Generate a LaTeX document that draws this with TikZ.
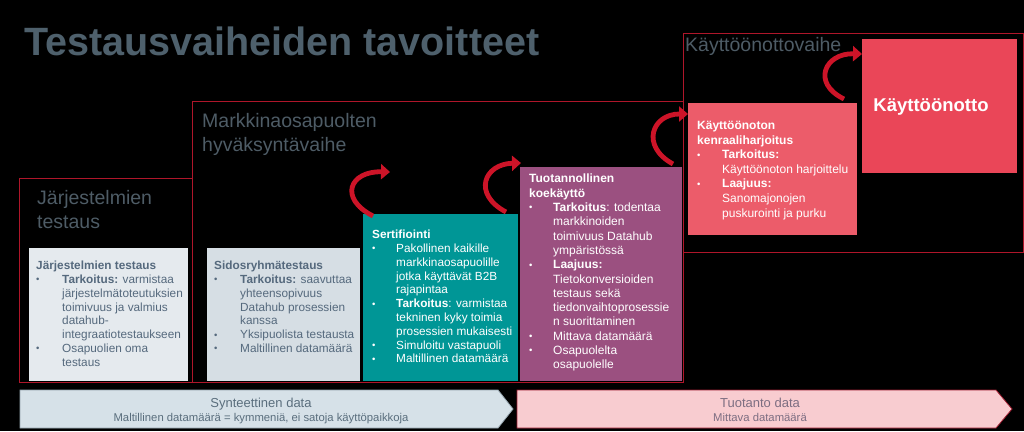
\documentclass[tikz,border=0pt]{standalone}
\usepackage{fontspec}
\setmainfont{Liberation Sans}
\usetikzlibrary{arrows.meta}
\definecolor{titlec}{RGB}{78,96,108}
\definecolor{lblc}{RGB}{78,92,102}
\definecolor{framec}{RGB}{175,22,42}
\definecolor{gfillA}{RGB}{229,234,238}
\definecolor{gfillB}{RGB}{214,222,228}
\definecolor{slate}{RGB}{85,105,125}
\definecolor{tealc}{RGB}{0,150,150}
\definecolor{purc}{RGB}{155,80,128}
\definecolor{pinkc}{RGB}{236,92,106}
\definecolor{kaytc}{RGB}{234,70,88}
\definecolor{arrowc}{RGB}{205,20,40}
\definecolor{bluechev}{RGB}{214,225,232}
\definecolor{bluechevd}{RGB}{150,165,175}
\definecolor{pinkchev}{RGB}{248,204,208}
\definecolor{pinkchevd}{RGB}{160,30,50}
\definecolor{chevtxtA}{RGB}{90,110,125}
\definecolor{chevtxtB}{RGB}{125,110,130}
\newlength\bw
\newcommand\bul{\makebox[\bw][l]{\raisebox{0.6pt}{\fontsize{9.5}{9.5}\selectfont •}}}
\newcommand\ind{\hspace*{\bw}}
\tikzset{
  frame/.style={draw=framec, line width=1.1pt, anchor=north west, inner sep=0pt},
  card/.style={anchor=north west, inner sep=0pt, draw=none},
  cardtext/.style={anchor=north west, inner sep=0pt, align=left},
  phase/.style={anchor=north west, inner sep=0pt, align=left, text=lblc,
    font=\fontsize{19.5}{24}\selectfont},
  carrow/.style={draw=arrowc, line width=4.8pt, -{Triangle[length=9pt,width=15pt]}},
  chevtext/.style={align=center, inner sep=0pt},
}
\begin{document}
\begin{tikzpicture}[x=1pt,y=-1pt]
\fill[black] (0,0) rectangle (1024,431);
\useasboundingbox (0,0) rectangle (1024,431);

% title
\node[anchor=base west, inner sep=0pt, text=titlec, font=\fontsize{39.5}{44}\selectfont\bfseries] (title) at (24,55) {Testausvaiheiden tavoitteet};

% frames
\node[frame, minimum width=173pt, minimum height=204pt] (f1) at (19,178) {};
\node[frame, minimum width=491pt, minimum height=281pt] (f2) at (192,101) {};
\node[frame, minimum width=340pt, minimum height=219pt] (f3) at (683,33) {};

\node[phase] (l1) at (37,190) {Järjestelmien\\testaus};
\node[phase] (l2) at (202,113) {Markkinaosapuolten\\hyväksyntävaihe};
\node[phase] (l3) at (685,37) {Käyttöönottovaihe};

% cards
\node[card, fill=gfillA, minimum width=159pt, minimum height=133pt] (b1) at (29,248) {};
\node[card, fill=gfillB, minimum width=153pt, minimum height=133pt] (b2) at (207,248) {};
\node[card, fill=tealc, minimum width=155pt, minimum height=167pt] (b3) at (363,214) {};
\node[card, fill=purc, minimum width=162pt, minimum height=214pt] (b4) at (520,167) {};
\node[card, fill=pinkc, minimum width=169pt, minimum height=132pt] (b5) at (688,103) {};
\node[card, fill=kaytc, minimum width=155pt, minimum height=134pt] (b6) at (862,39) {};

\node[cardtext, text=slate, font=\fontsize{11.8}{13.8}\selectfont\setlength\bw{26pt}] (t1) at (36,261) {%
\textbf{Järjestelmien testaus}\\
\bul\textbf{Tarkoitus:} varmistaa\\
\ind järjestelmätoteutuksien\\
\ind toimivuus ja valmius\\
\ind datahub-\\
\ind integraatiotestaukseen\\
\bul Osapuolien oma\\
\ind testaus};

\node[cardtext, text=slate, font=\fontsize{11.8}{13.8}\selectfont\setlength\bw{26pt}] (t2) at (214,261) {%
\textbf{Sidosryhmätestaus}\\
\bul\textbf{Tarkoitus:} saavuttaa\\
\ind yhteensopivuus\\
\ind Datahub prosessien\\
\ind kanssa\\
\bul Yksipuolista testausta\\
\bul Maltillinen datamäärä};

\node[cardtext, text=white, font=\fontsize{11.8}{13.8}\selectfont\setlength\bw{24pt}] (t3) at (372,230) {%
\textbf{Sertifiointi}\\
\bul Pakollinen kaikille\\
\ind markkinaosapuolille\\
\ind jotka käyttävät B2B\\
\ind rajapintaa\\
\bul\textbf{Tarkoitus}: varmistaa\\
\ind tekninen kyky toimia\\
\ind prosessien mukaisesti\\
\bul Simuloitu vastapuoli\\
\bul Maltillinen datamäärä};

\node[cardtext, text=white, font=\fontsize{12}{14.3}\selectfont\setlength\bw{24pt}] (t4) at (529,174) {%
\textbf{Tuotannollinen}\\
\textbf{koekäyttö}\\
\bul\textbf{Tarkoitus}: todentaa\\
\ind markkinoiden\\
\ind toimivuus Datahub\\
\ind ympäristössä\\
\bul\textbf{Laajuus:}\\
\ind Tietokonversioiden\\
\ind testaus sekä\\
\ind tiedonvaihtoprosessie\\
\ind n suorittaminen\\
\bul Mittava datamäärä\\
\bul Osapuolelta\\
\ind osapuolelle};

\node[cardtext, text=white, font=\fontsize{12}{14.6}\selectfont\setlength\bw{25pt}] (t5) at (697,121) {%
\textbf{Käyttöönoton}\\
\textbf{kenraaliharjoitus}\\
\bul\textbf{Tarkoitus:}\\
\ind Käyttöönoton harjoittelu\\
\bul\textbf{Laajuus:}\\
\ind Sanomajonojen\\
\ind puskurointi ja purku};

\node[inner sep=0pt, text=white, font=\fontsize{18.5}{22}\selectfont\bfseries] (t6) at (931,107) {Käyttöönotto};

% curved arrows
\coordinate (a1s) at (373,216);
\coordinate (a1e) at (390,172);
\coordinate (a2s) at (506,212);
\coordinate (a2e) at (521,163);
\coordinate (a3s) at (673,164);
\coordinate (a3e) at (688,114);
\coordinate (a4s) at (844,99);
\coordinate (a4e) at (862,54);
\draw[carrow] (a1s) .. controls (338,198) and (350,171) .. (a1e);
\draw[carrow] (a2s) .. controls (472,194) and (484,164) .. (a2e);
\draw[carrow] (a3s) .. controls (640,146) and (652,114) .. (a3e);
\draw[carrow] (a4s) .. controls (811,83) and (825,53) .. (a4e);

% data chevrons
\path[fill=bluechev, draw=bluechevd, line width=0.8pt] (20,390) -- (498,390) -- (513,409) -- (498,428) -- (20,428) -- cycle;
\path[fill=pinkchev, draw=pinkchevd, line width=0.8pt] (517,390) -- (996,390) -- (1012,409) -- (996,428) -- (517,428) -- cycle;
\node[chevtext, anchor=base, text=chevtxtA, font=\fontsize{13}{14}\selectfont] (d1) at (261,407) {Synteettinen data};
\node[chevtext, anchor=base, text=chevtxtA, font=\fontsize{11.3}{13}\selectfont] (d2) at (261,421) {Maltillinen datamäärä = kymmeniä, ei satoja käyttöpaikkoja};
\node[chevtext, anchor=base, text=chevtxtB, font=\fontsize{13}{14}\selectfont] (d3) at (760,407) {Tuotanto data};
\node[chevtext, anchor=base, text=chevtxtB, font=\fontsize{11.3}{13}\selectfont] (d4) at (760,421) {Mittava datamäärä};
\end{tikzpicture}
\end{document}
